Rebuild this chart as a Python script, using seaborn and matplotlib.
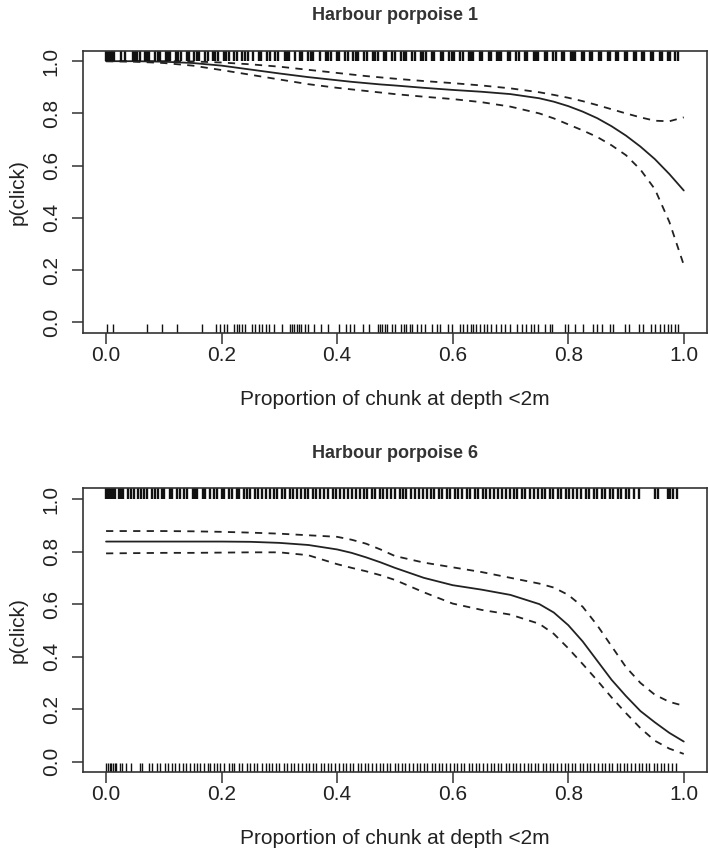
import matplotlib
matplotlib.use("Agg")
import matplotlib.pyplot as plt
import seaborn as sns
import pandas as pd

# Fitted curves (x, fit, upper, lower)
x_grid = [0.00, 0.05, 0.10, 0.15, 0.20, 0.25, 0.30, 0.35, 0.40, 0.425, 0.45, 0.475,
          0.50, 0.55, 0.60, 0.65, 0.70, 0.75, 0.775, 0.80, 0.825, 0.85, 0.875, 0.90,
          0.925, 0.95, 0.975, 1.00]

hp1_fit = [1.000, 1.000, 0.998, 0.993, 0.983, 0.968, 0.953, 0.939, 0.927, 0.921, 0.916, 0.911,
           0.907, 0.898, 0.890, 0.883, 0.874, 0.858, 0.845, 0.828, 0.807, 0.782, 0.751, 0.715,
           0.673, 0.625, 0.568, 0.505]
hp1_upper = [1.000, 1.000, 1.000, 0.999, 0.995, 0.988, 0.979, 0.967, 0.955, 0.949, 0.943, 0.938,
             0.933, 0.924, 0.916, 0.907, 0.896, 0.881, 0.871, 0.860, 0.847, 0.832, 0.816, 0.800,
             0.785, 0.772, 0.770, 0.785]
hp1_lower = [1.000, 0.998, 0.993, 0.983, 0.966, 0.948, 0.930, 0.912, 0.898, 0.892, 0.886, 0.880,
             0.874, 0.864, 0.855, 0.843, 0.826, 0.800, 0.781, 0.758, 0.735, 0.710, 0.678, 0.640,
             0.585, 0.510, 0.385, 0.220]

hp6_fit = [0.838, 0.838, 0.838, 0.838, 0.838, 0.837, 0.833, 0.825, 0.808, 0.795, 0.778, 0.759,
           0.738, 0.700, 0.672, 0.655, 0.635, 0.600, 0.568, 0.520, 0.458, 0.385, 0.312, 0.250,
           0.193, 0.150, 0.110, 0.077]
hp6_upper = [0.878, 0.878, 0.878, 0.877, 0.875, 0.872, 0.868, 0.862, 0.856, 0.845, 0.830, 0.808,
             0.783, 0.758, 0.740, 0.722, 0.700, 0.678, 0.663, 0.635, 0.590, 0.520, 0.440, 0.360,
             0.300, 0.255, 0.228, 0.213]
hp6_lower = [0.793, 0.794, 0.795, 0.795, 0.796, 0.797, 0.797, 0.786, 0.752, 0.738, 0.725, 0.710,
             0.692, 0.645, 0.602, 0.578, 0.560, 0.525, 0.487, 0.432, 0.372, 0.310, 0.245, 0.185,
             0.128, 0.080, 0.050, 0.030]

# Rug positions: clicks (drawn at top) and no clicks (drawn at bottom)
hp1_rug_top = [0.000, 0.003, 0.006, 0.010, 0.013, 0.026, 0.033, 0.046, 0.050, 0.054, 0.058,
               0.067, 0.071, 0.075, 0.084, 0.090, 0.094, 0.103, 0.107, 0.111, 0.121, 0.125,
               0.129, 0.140, 0.144, 0.153, 0.157, 0.161, 0.171, 0.176, 0.185, 0.189, 0.193,
               0.204, 0.208, 0.212, 0.222, 0.226, 0.236, 0.241, 0.245, 0.255, 0.264, 0.268,
               0.279, 0.283, 0.292, 0.297, 0.309, 0.313, 0.317, 0.327, 0.336, 0.340, 0.350,
               0.355, 0.359, 0.370, 0.381, 0.385, 0.389, 0.399, 0.403, 0.414, 0.418, 0.428,
               0.432, 0.436, 0.447, 0.451, 0.462, 0.466, 0.470, 0.481, 0.485, 0.495, 0.500,
               0.511, 0.515, 0.519, 0.530, 0.534, 0.545, 0.549, 0.553, 0.564, 0.568, 0.579,
               0.583, 0.594, 0.598, 0.602, 0.613, 0.617, 0.628, 0.632, 0.636, 0.647, 0.651,
               0.662, 0.666, 0.676, 0.680, 0.684, 0.695, 0.699, 0.710, 0.714, 0.725, 0.729,
               0.740, 0.744, 0.748, 0.759, 0.763, 0.774, 0.778, 0.789, 0.793, 0.804, 0.808,
               0.812, 0.823, 0.827, 0.838, 0.842, 0.853, 0.857, 0.868, 0.872, 0.883, 0.887,
               0.898, 0.902, 0.913, 0.917, 0.928, 0.932, 0.943, 0.947, 0.958, 0.962, 0.973,
               0.977, 0.985, 0.990]
hp1_rug_bottom = [0.002, 0.012, 0.071, 0.097, 0.123, 0.166, 0.190, 0.198, 0.205, 0.210,
                  0.222, 0.226, 0.230, 0.236, 0.240, 0.252, 0.258, 0.264, 0.270, 0.276,
                  0.282, 0.290, 0.305, 0.318, 0.322, 0.326, 0.330, 0.334, 0.338, 0.345,
                  0.350, 0.360, 0.372, 0.385, 0.404, 0.415, 0.422, 0.430, 0.444, 0.455,
                  0.470, 0.474, 0.478, 0.482, 0.486, 0.495, 0.500, 0.510, 0.515, 0.520,
                  0.526, 0.530, 0.538, 0.545, 0.552, 0.565, 0.572, 0.578, 0.592, 0.598,
                  0.612, 0.618, 0.625, 0.632, 0.636, 0.640, 0.648, 0.655, 0.660, 0.667,
                  0.675, 0.683, 0.690, 0.700, 0.712, 0.720, 0.727, 0.735, 0.741, 0.747,
                  0.760, 0.768, 0.772, 0.795, 0.800, 0.812, 0.826, 0.843, 0.850, 0.858,
                  0.873, 0.878, 0.898, 0.905, 0.922, 0.930, 0.943, 0.950, 0.958, 0.965,
                  0.972, 0.978, 0.985, 0.990]

hp6_rug_top = [0.000, 0.003, 0.006, 0.009, 0.012, 0.015, 0.022, 0.026, 0.030, 0.038, 0.044,
               0.048, 0.056, 0.060, 0.066, 0.070, 0.080, 0.084, 0.090, 0.097, 0.101, 0.110,
               0.114, 0.122, 0.128, 0.135, 0.140, 0.150, 0.154, 0.158, 0.168, 0.172, 0.180,
               0.186, 0.192, 0.200, 0.204, 0.212, 0.218, 0.226, 0.230, 0.238, 0.244, 0.250,
               0.258, 0.263, 0.270, 0.276, 0.284, 0.290, 0.296, 0.305, 0.310, 0.318, 0.324,
               0.330, 0.338, 0.344, 0.350, 0.358, 0.364, 0.371, 0.378, 0.384, 0.392, 0.398,
               0.405, 0.412, 0.418, 0.426, 0.432, 0.440, 0.446, 0.452, 0.460, 0.466, 0.474,
               0.480, 0.486, 0.494, 0.500, 0.508, 0.514, 0.520, 0.528, 0.534, 0.542, 0.548,
               0.556, 0.562, 0.568, 0.576, 0.582, 0.590, 0.596, 0.604, 0.610, 0.616, 0.624,
               0.630, 0.638, 0.644, 0.652, 0.658, 0.664, 0.672, 0.678, 0.686, 0.692, 0.700,
               0.706, 0.712, 0.720, 0.726, 0.734, 0.740, 0.748, 0.754, 0.760, 0.768, 0.774,
               0.782, 0.788, 0.796, 0.802, 0.808, 0.816, 0.822, 0.830, 0.836, 0.844, 0.850,
               0.858, 0.864, 0.872, 0.878, 0.886, 0.892, 0.900, 0.906, 0.914, 0.922, 0.950,
               0.956, 0.972, 0.976, 0.982, 0.988]
hp6_rug_bottom = [0.000, 0.003, 0.006, 0.009, 0.012, 0.015, 0.018, 0.024, 0.028, 0.034,
                  0.044, 0.058, 0.062, 0.074, 0.080, 0.088, 0.094, 0.102, 0.108, 0.114,
                  0.120, 0.126, 0.134, 0.138, 0.146, 0.152, 0.158, 0.162, 0.170, 0.176,
                  0.180, 0.186, 0.192, 0.198, 0.204, 0.212, 0.218, 0.222, 0.230, 0.236,
                  0.244, 0.250, 0.256, 0.262, 0.270, 0.276, 0.282, 0.288, 0.294, 0.300,
                  0.308, 0.314, 0.320, 0.326, 0.332, 0.340, 0.346, 0.352, 0.358, 0.364,
                  0.372, 0.378, 0.384, 0.390, 0.396, 0.404, 0.410, 0.416, 0.422, 0.428,
                  0.436, 0.442, 0.448, 0.454, 0.460, 0.468, 0.474, 0.480, 0.486, 0.492,
                  0.500, 0.506, 0.512, 0.518, 0.524, 0.532, 0.538, 0.544, 0.550, 0.556,
                  0.564, 0.570, 0.576, 0.582, 0.588, 0.596, 0.602, 0.608, 0.614, 0.620,
                  0.628, 0.634, 0.640, 0.646, 0.652, 0.660, 0.666, 0.672, 0.678, 0.684,
                  0.692, 0.698, 0.704, 0.710, 0.716, 0.724, 0.730, 0.736, 0.742, 0.748,
                  0.756, 0.762, 0.768, 0.774, 0.780, 0.788, 0.794, 0.800, 0.806, 0.812,
                  0.820, 0.826, 0.832, 0.838, 0.844, 0.852, 0.858, 0.864, 0.870, 0.876,
                  0.884, 0.890, 0.896, 0.902, 0.908, 0.916, 0.922, 0.928, 0.934, 0.940,
                  0.948, 0.954, 0.960, 0.966, 0.972, 0.980, 0.986]

titles = ["Harbour porpoise 1", "Harbour porpoise 6"]
x_label = "Proportion of chunk at depth <2m"
y_label = "p(click)"
ticks = [0.0, 0.2, 0.4, 0.6, 0.8, 1.0]
tick_labels = ["0.0", "0.2", "0.4", "0.6", "0.8", "1.0"]

sns.set_style("ticks")
plt.rcParams["font.family"] = ["Liberation Sans", "DejaVu Sans"]
ink = "#222222"

fig = plt.figure(figsize=(7.09, 8.60), dpi=100)
panel_rects = [[0.117, 0.613, 0.880, 0.328], [0.117, 0.102, 0.880, 0.330]]
panels = [
    (hp1_fit, hp1_upper, hp1_lower, hp1_rug_top, hp1_rug_bottom),
    (hp6_fit, hp6_upper, hp6_lower, hp6_rug_top, hp6_rug_bottom),
]

for rect, title, (fit, upper, lower, rug_top, rug_bot) in zip(panel_rects, titles, panels):
    ax = fig.add_axes(rect)
    df = pd.DataFrame({"x": x_grid, "fit": fit, "upper": upper, "lower": lower})

    sns.lineplot(data=df, x="x", y="fit", color=ink, lw=1.3, ax=ax)
    for col in ["upper", "lower"]:
        sns.lineplot(data=df, x="x", y=col, color=ink, lw=1.3, ax=ax,
                     linestyle=(0, (4, 3.5)))

    # rugs: no-click at bottom, click at top
    sns.rugplot(x=rug_bot, height=0.032, color="#111111", lw=1.7, ax=ax)
    ax.vlines(rug_top, 1 - 0.036, 1.0, transform=ax.get_xaxis_transform(),
              color="#111111", lw=1.7)

    ax.set_xlim(-0.04, 1.04)
    ax.set_ylim(-0.04, 1.04)
    ax.set_xticks(ticks)
    ax.set_xticklabels(tick_labels)
    ax.set_yticks(ticks)
    ax.set_yticklabels(tick_labels, rotation=90, va="center")
    ax.tick_params(direction="out", length=8, width=1.1, color="#333333",
                   labelsize=15, labelcolor=ink)
    ax.tick_params(axis="x", pad=1.5)
    ax.tick_params(axis="y", pad=8)
    for s in ax.spines.values():
        s.set_visible(True)
        s.set_color("#333333")
        s.set_linewidth(1.2)

    ax.set_xlabel(x_label, fontsize=15, color=ink, labelpad=18)
    ax.set_ylabel(y_label, fontsize=15, color=ink, labelpad=10)
    ax.set_title(title, fontsize=13, fontweight="bold", color="#333333", pad=22)

fig.savefig("out.png", dpi=100)
